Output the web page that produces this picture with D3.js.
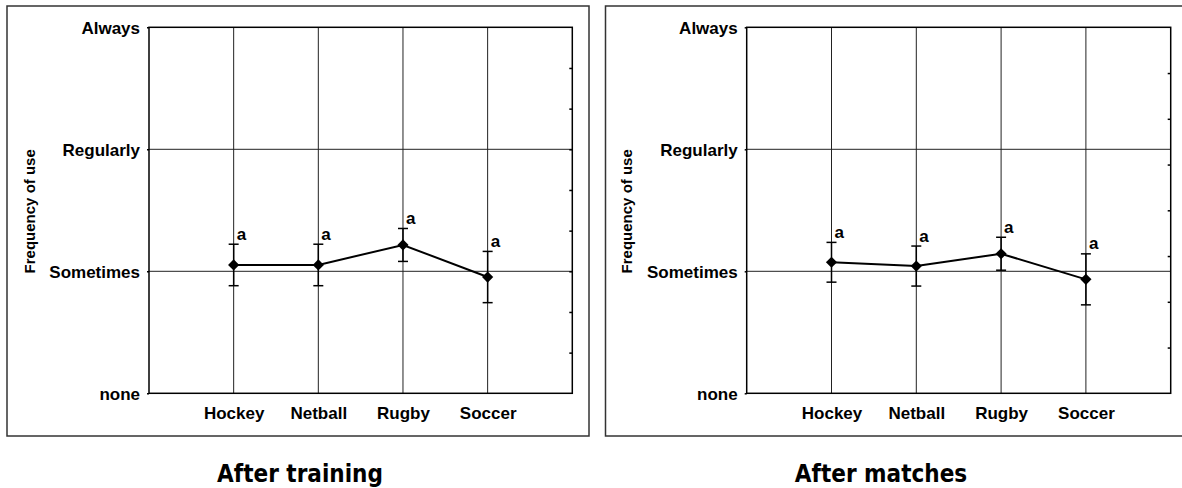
<!DOCTYPE html>
<html>
<head>
<meta charset="utf-8">
<script src="https://cdn.jsdelivr.net/npm/d3@7"></script>
<style>
  html, body { margin: 0; padding: 0; background: #fff; }
  svg { display: block; }
  .lbl { font-family: "Liberation Sans", Arial, sans-serif; font-weight: bold; font-size: 17px; fill: #000; }
  .ttl { font-family: "DejaVu Sans Condensed", "DejaVu Sans", sans-serif; font-stretch: condensed; font-weight: bold; font-size: 24px; fill: #000; }
</style>
</head>
<body>
<svg id="chart" width="1182" height="488"></svg>
<script>
// ---- data ----
const categories = ["Hockey", "Netball", "Rugby", "Soccer"];
const levelLabels = ["none", "Sometimes", "Regularly", "Always"];
const yTitle = "Frequency of use";

const trainingMean = [1.052, 1.052, 1.216, 0.953];
const trainingErr  = [0.170, 0.170, 0.135, 0.210];
const trainingSig  = ["a", "a", "a", "a"];

const matchesMean = [1.074, 1.043, 1.144, 0.934];
const matchesErr  = [0.163, 0.164, 0.135, 0.209];
const matchesSig  = ["a", "a", "a", "a"];

const panelTitles = ["After training", "After matches"];
const minorDivisions = [9, 8];

// ---- layout ----
const svg = d3.select("#chart");
const panels = [
  { boxX: 7, plotL: 149, plotR: 572.3, titleX: 300, mean: trainingMean, err: trainingErr, sig: trainingSig, title: panelTitles[0], minor: minorDivisions[0], yTitleX: 35 },
  { boxX: 605.5, plotL: 746.7, plotR: 1170.7, titleX: 881, mean: matchesMean, err: matchesErr, sig: matchesSig, title: panelTitles[1], minor: minorDivisions[1], yTitleX: 632 }
];
const boxY = 6, boxW = 582, boxH = 430;
const plotT = 27.3, plotB = 393.3;

panels.forEach(p => {
  const g = svg.append("g");

  // outer box
  g.append("rect")
    .attr("x", p.boxX).attr("y", boxY)
    .attr("width", boxW).attr("height", boxH)
    .attr("fill", "none").attr("stroke", "#333").attr("stroke-width", 1.5);

  const x = d3.scalePoint().domain(categories).range([p.plotL, p.plotR]).padding(1);
  const y = d3.scaleLinear().domain([0, levelLabels.length - 1]).range([plotB, plotT]);

  // grid: horizontal at levels
  g.append("g").selectAll("line").data(d3.range(1, levelLabels.length - 1)).join("line")
    .attr("x1", p.plotL).attr("x2", p.plotR)
    .attr("y1", d => y(d)).attr("y2", d => y(d))
    .attr("stroke", "#222").attr("stroke-width", 1);

  // grid: vertical at categories
  g.append("g").selectAll("line").data(categories).join("line")
    .attr("x1", d => x(d)).attr("x2", d => x(d))
    .attr("y1", plotT).attr("y2", plotB)
    .attr("stroke", "#222").attr("stroke-width", 1);

  // frame
  g.append("rect")
    .attr("x", p.plotL).attr("y", plotT)
    .attr("width", p.plotR - p.plotL).attr("height", plotB - plotT)
    .attr("fill", "none").attr("stroke", "#000").attr("stroke-width", 1.5);

  // left axis (level labels)
  const yAxis = d3.axisLeft(y).tickValues(d3.range(levelLabels.length))
    .tickFormat(d => levelLabels[d]).tickSize(2).tickPadding(7);
  const ya = g.append("g").attr("transform", `translate(${p.plotL},0)`).call(yAxis);
  ya.select(".domain").remove();
  ya.selectAll(".tick line").attr("stroke", "#000").attr("stroke-width", 1.5);
  ya.selectAll(".tick text").attr("class", "lbl").attr("dy", "0.36em");

  // right minor ticks (secondary axis)
  const y2 = d3.scaleLinear().domain([0, p.minor]).range([plotB, plotT]);
  const y2Axis = d3.axisRight(y2).tickValues(d3.range(1, p.minor)).tickSize(-3).tickFormat("");
  const y2a = g.append("g").attr("transform", `translate(${p.plotR},0)`).call(y2Axis);
  y2a.select(".domain").remove();
  y2a.selectAll(".tick line").attr("stroke", "#000").attr("stroke-width", 1.5);

  // x axis labels
  const xAxis = d3.axisBottom(x).tickSize(0).tickPadding(10);
  const xa = g.append("g").attr("transform", `translate(0,${plotB})`).call(xAxis);
  xa.select(".domain").remove();
  xa.selectAll(".tick text").attr("class", "lbl").attr("dy", "0.9em");

  // y title
  g.append("text").attr("class", "lbl")
    .attr("transform", `translate(${p.yTitleX},${(plotT + plotB) / 2 + 1}) rotate(-90)`)
    .attr("text-anchor", "middle")
    .style("font-size", "15px")
    .text(yTitle);

  const rows = categories.map((c, i) => ({ c, m: p.mean[i], e: p.err[i], s: p.sig[i] }));

  // error bars
  const eb = g.append("g").selectAll("g").data(rows).join("g");
  eb.append("line")
    .attr("x1", d => x(d.c)).attr("x2", d => x(d.c))
    .attr("y1", d => y(d.m - d.e)).attr("y2", d => y(d.m + d.e))
    .attr("stroke", "#000").attr("stroke-width", 1.5);
  [1, -1].forEach(sgn => {
    eb.append("line")
      .attr("x1", d => x(d.c) - 5).attr("x2", d => x(d.c) + 5)
      .attr("y1", d => y(d.m + sgn * d.e)).attr("y2", d => y(d.m + sgn * d.e))
      .attr("stroke", "#000").attr("stroke-width", 1.5);
  });

  // line
  g.append("path").datum(rows)
    .attr("d", d3.line().x(d => x(d.c)).y(d => y(d.m)))
    .attr("fill", "none").attr("stroke", "#000").attr("stroke-width", 2);

  // diamonds
  g.append("g").selectAll("path").data(rows).join("path")
    .attr("transform", d => `translate(${x(d.c)},${y(d.m)})`)
    .attr("d", d3.symbol(d3.symbolDiamond2, 80))
    .attr("fill", "#000");

  // significance letters
  g.append("g").selectAll("text").data(rows).join("text")
    .attr("class", "lbl")
    .attr("x", d => x(d.c) + 3)
    .attr("y", d => y(d.m + d.e) - 4.5)
    .text(d => d.s);

  // panel title
  g.append("text").attr("class", "ttl")
    .attr("x", p.titleX).attr("y", 481.5)
    .attr("text-anchor", "middle")
    .text(p.title);
});
</script>
</body>
</html>
